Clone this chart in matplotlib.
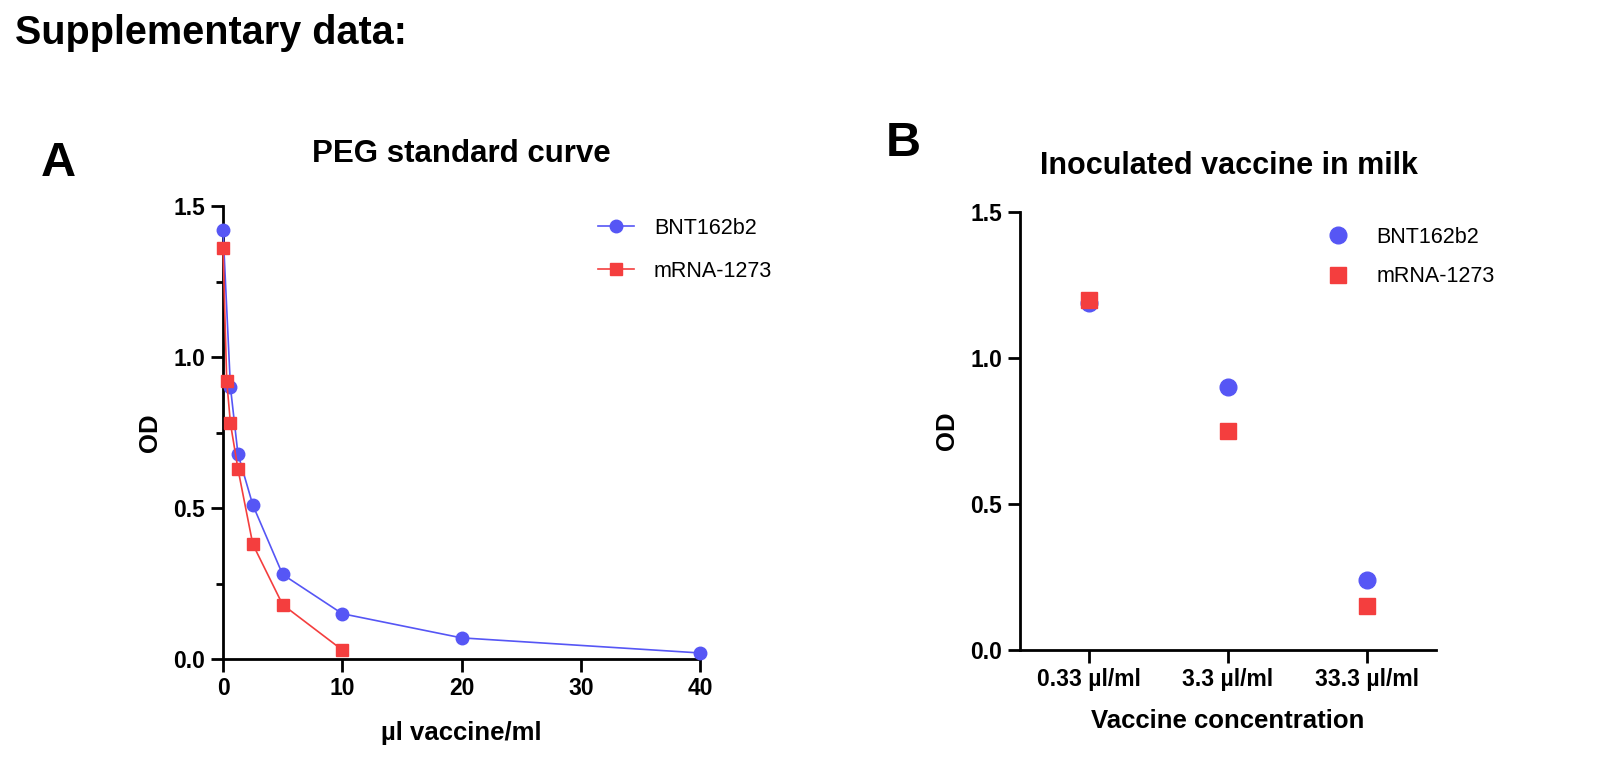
import numpy as np
import matplotlib.pyplot as plt
from matplotlib.ticker import MultipleLocator

plt.rcParams['font.family'] = ['Liberation Sans', 'DejaVu Sans']

# panel A: PEG standard curve
bnt_x = [0, 0.625, 1.25, 2.5, 5, 10, 20, 40]
bnt_od = [1.42, 0.90, 0.68, 0.51, 0.28, 0.15, 0.07, 0.02]
mrna_x = [0, 0.3125, 0.625, 1.25, 2.5, 5, 10]
mrna_od = [1.36, 0.92, 0.78, 0.63, 0.38, 0.18, 0.03]

# panel B: inoculated vaccine in milk
conc_labels = ["0.33 µl/ml", "3.3 µl/ml", "33.3 µl/ml"]
bnt_milk = [1.19, 0.90, 0.24]
mrna_milk = [1.20, 0.75, 0.15]

blue = '#5656F5'
red = '#F43E3E'

W, H = 1600, 776
fig = plt.figure(figsize=(16, 7.76), dpi=100)


def fx(px):
    return px / W


def fy(py):
    return 1 - py / H


def style_axes(ax):
    for s in ['top', 'right']:
        ax.spines[s].set_visible(False)
    for s in ['left', 'bottom']:
        ax.spines[s].set_linewidth(2.0)
    ax.tick_params(which='major', length=9, width=2.0, labelsize=16.5, pad=4)
    ax.tick_params(which='minor', length=5, width=2.0)
    for lab in ax.get_xticklabels() + ax.get_yticklabels():
        lab.set_fontweight('bold')


fig.text(fx(15), fy(33), "Supplementary data:", fontsize=28.5, fontweight='bold',
         ha='left', va='center')

# ---- A ----
axA = fig.add_axes([fx(223), fy(659), fx(700) - fx(223), fy(206) - fy(659)])
axA.plot(bnt_x, bnt_od, '-o', color=blue, lw=1.2, ms=9, clip_on=False,
         label='BNT162b2', zorder=3)
axA.plot(mrna_x, mrna_od, '-s', color=red, lw=1.2, ms=9, clip_on=False,
         label='mRNA-1273', zorder=3)
axA.set_xlim(0, 40)
axA.set_ylim(0, 1.5)
axA.set_xticks([0, 10, 20, 30, 40])
axA.set_yticks([0, 0.5, 1.0, 1.5])
axA.set_yticklabels(['0.0', '0.5', '1.0', '1.5'])
axA.yaxis.set_minor_locator(MultipleLocator(0.25))
style_axes(axA)
axA.set_xlabel("µl vaccine/ml", fontsize=18.5, fontweight='bold', labelpad=15)
axA.set_ylabel("OD", fontsize=18.5, fontweight='bold', labelpad=8)
axA.legend(loc='upper left', bbox_to_anchor=(fx(598), fy(218)),
           bbox_transform=fig.transFigure, frameon=False, fontsize=15.5,
           handlelength=1.65, handletextpad=0.95, labelspacing=1.0,
           borderpad=0, borderaxespad=0)
fig.text(fx(461), fy(154), "PEG standard curve", fontsize=22.5, fontweight='bold',
         ha='center', va='center')
fig.text(fx(41), fy(164), "A", fontsize=35, fontweight='bold', ha='left', va='center')

# ---- B ----
axB = fig.add_axes([fx(1020), fy(650), fx(1436) - fx(1020), fy(212) - fy(650)])
pos = np.arange(len(conc_labels))
axB.plot(pos, bnt_milk, 'o', color=blue, ms=12, label='BNT162b2', zorder=3)
axB.plot(pos, mrna_milk, 's', color=red, ms=12, label='mRNA-1273', zorder=4)
axB.set_xlim(-0.5, 2.5)
axB.set_ylim(0, 1.5)
axB.set_xticks(pos)
axB.set_xticklabels(conc_labels)
axB.set_yticks([0, 0.5, 1.0, 1.5])
axB.set_yticklabels(['0.0', '0.5', '1.0', '1.5'])
style_axes(axB)
axB.set_xlabel("Vaccine concentration", fontsize=18.5, fontweight='bold', labelpad=13)
axB.set_ylabel("OD", fontsize=18.5, fontweight='bold', labelpad=8)
axB.legend(loc='upper left', bbox_to_anchor=(fx(1327), fy(227)),
           bbox_transform=fig.transFigure, frameon=False, fontsize=15.5,
           handlelength=1.0, handletextpad=1.3, labelspacing=0.85,
           borderpad=0, borderaxespad=0)
fig.text(fx(1229), fy(166), "Inoculated vaccine in milk", fontsize=22,
         fontweight='bold', ha='center', va='center')
fig.text(fx(886), fy(144), "B", fontsize=35, fontweight='bold', ha='left', va='center')

fig.savefig('out.png', dpi=100)
